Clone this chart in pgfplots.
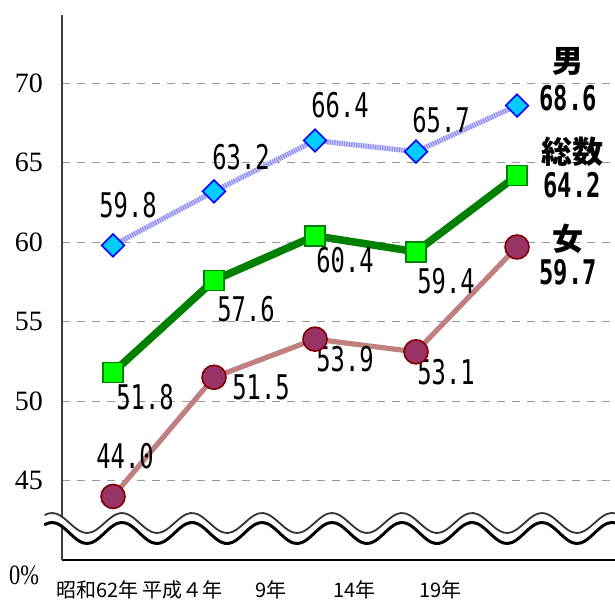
\documentclass[border=0pt]{standalone}
\usepackage{fontspec}
\usepackage{graphicx}
\usepackage{pgfplots}
\pgfplotsset{compat=1.18}
\usetikzlibrary{calc}
\setmainfont{Liberation Serif}
\newfontfamily\jp{Noto Sans CJK JP}
\newfontfamily\num{DejaVu Sans Mono}[FakeStretch=0.7]
\definecolor{lavA}{HTML}{D0D0FF}
\definecolor{lavB}{HTML}{8C8CF0}
\definecolor{dia}{HTML}{00CCFF}
\definecolor{grn}{HTML}{008000}
\definecolor{lime}{HTML}{00FF00}
\definecolor{rose}{HTML}{C08080}
\definecolor{plum}{HTML}{993366}
\definecolor{maroon}{HTML}{800000}
\newcommand\lab[1]{{\num\fontsize{17}{18}\selectfont #1}}
\newcommand\labb[1]{{\num\bfseries\fontsize{17}{18}\selectfont #1}}
\newcommand\jlab[1]{{\jp\bfseries\fontsize{15.5}{16}\selectfont #1}}
\begin{document}
\begin{tikzpicture}
\begin{axis}[name=ax,
  scale only axis, width=276.5pt, height=272.5pt,
  xmin=-0.505, xmax=4.97, ymin=40, ymax=74.3,
  axis x line=bottom, axis y line=left,
  x axis line style={-, black, line width=0.6pt},
  y axis line style={-, black!75, line width=0.6pt},
  ytick={45,50,55,60,65,70},
  xtick={-0.15,0.69,1.56,2.39,3.24},
  xticklabels={昭和62年,平成４年,9年,14年,19年},
  major tick length=0pt,
  tick style={draw=none},
  /pgf/number format/assume math mode=true,
  yticklabel style={font=\fontsize{14}{14}\selectfont, xshift=-6pt},
  xticklabel style={font=\jp\fontsize{10}{11}\selectfont, yshift=-7pt},
  ymajorgrids,
  grid style={gray!80, dash pattern=on 4pt off 3.5pt, line width=0.5pt},
  clip=false,
]
% 男
\addplot[draw=lavA, line width=2.5pt, no marks] coordinates {(0,59.8) (1,63.2) (2,66.4) (3,65.7) (4,68.6)};
\addplot[draw=lavB, line width=2.5pt, dash pattern=on 0.6pt off 0.6pt,
  mark=square*, mark size=4pt,
  mark options={solid, rotate=45, fill=dia, draw=blue, line width=0.8pt}]
  coordinates {(0,59.8) (1,63.2) (2,66.4) (3,65.7) (4,68.6)};
% 総数
\addplot[draw=grn, line width=3.8pt, mark=square*, mark size=5pt,
  mark options={fill=lime, draw=grn, line width=0.8pt}]
  coordinates {(0,51.8) (1,57.6) (2,60.4) (3,59.4) (4,64.2)};
% 女
\addplot[draw=rose, line width=2.6pt, mark=*, mark size=6pt,
  mark options={fill=plum, draw=maroon, line width=0.8pt}]
  coordinates {(0,44.0) (1,51.5) (2,53.9) (3,53.1) (4,59.7)};

% labels 男
\node[inner sep=0, xshift=7.5pt, yshift=20pt] at (axis cs:0,59.8) {\lab{59.8}};
\node[inner sep=0, xshift=13.5pt, yshift=17pt] at (axis cs:1,63.2) {\lab{63.2}};
\node[inner sep=0, xshift=12.5pt, yshift=17.5pt] at (axis cs:2,66.4) {\lab{66.4}};
\node[inner sep=0, xshift=12.5pt, yshift=16pt] at (axis cs:3,65.7) {\lab{65.7}};
\node[inner sep=0, xshift=25.5pt, yshift=22pt] at (axis cs:4,68.6) {\jlab{男}};
\node[inner sep=0, xshift=25.5pt, yshift=3.5pt] at (axis cs:4,68.6) {\labb{68.6}};
% labels 総数
\node[inner sep=0, xshift=16pt, yshift=-12.5pt] at (axis cs:0,51.8) {\lab{51.8}};
\node[inner sep=0, xshift=16pt, yshift=-14.5pt] at (axis cs:1,57.6) {\lab{57.6}};
\node[inner sep=0, xshift=15pt, yshift=-12pt] at (axis cs:2,60.4) {\lab{60.4}};
\node[inner sep=0, xshift=15pt, yshift=-14.5pt] at (axis cs:3,59.4) {\lab{59.4}};
\node[inner sep=0, xshift=27.5pt, yshift=12pt] at (axis cs:4,64.2) {\jlab{総数}};
\node[inner sep=0, xshift=27.5pt, yshift=-5pt] at (axis cs:4,64.2) {\labb{64.2}};
% labels 女
\node[inner sep=0, xshift=6pt, yshift=20pt] at (axis cs:0,44.0) {\lab{44.0}};
\node[inner sep=0, xshift=23.5pt, yshift=-5pt] at (axis cs:1,51.5) {\lab{51.5}};
\node[inner sep=0, xshift=15pt, yshift=-10pt] at (axis cs:2,53.9) {\lab{53.9}};
\node[inner sep=0, xshift=15pt, yshift=-10pt] at (axis cs:3,53.1) {\lab{53.1}};
\node[inner sep=0, xshift=25.5pt, yshift=4pt] at (axis cs:4,59.7) {\jlab{女}};
\node[inner sep=0, xshift=25.5pt, yshift=-12.5pt] at (axis cs:4,59.7) {\labb{59.7}};
\end{axis}
\begin{scope}[shift={($(ax.south west)+(-31pt,280pt)$)}, x=0.5pt, y=-0.5pt]
  \fill[white] plot[domain=45:615,samples=150,smooth] (\x,{523-10*cos(5.142857*(\x-52))})
     -- plot[domain=615:45,samples=150,smooth] (\x,{533-10.5*cos(5.142857*(\x-52))}) -- cycle;
  \draw[line width=0.9pt, black!80, line cap=round] plot[domain=45:615,samples=150,smooth] (\x,{523-10*cos(5.142857*(\x-52))});
  \draw[line width=1.5pt, black, line cap=round] plot[domain=45:615,samples=150,smooth] (\x,{533-10.5*cos(5.142857*(\x-52))});
  \node[font=\fontsize{14}{14}\selectfont] at (24,575) {\scalebox{0.8}[1]{0\%}};
\end{scope}
\pgfresetboundingbox
\path ($(ax.south west)+(-31pt,-20.5pt)$) rectangle ($(ax.north east)+(0pt,7.5pt)$);
\end{tikzpicture}
\end{document}
